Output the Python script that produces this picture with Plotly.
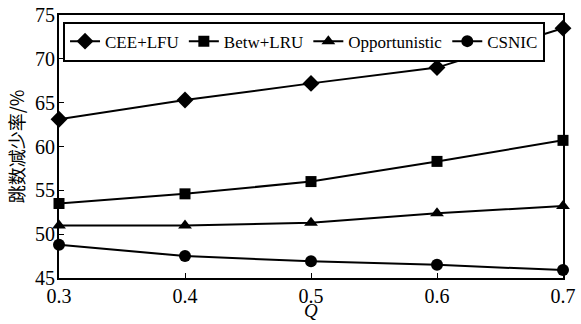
import plotly.graph_objects as go

q_values = [0.3, 0.4, 0.5, 0.6, 0.7]
cee_lfu = [63.1, 65.3, 67.2, 69.0, 73.5]
betw_lru = [53.5, 54.6, 56.0, 58.3, 60.7]
opportunistic = [51.0, 51.0, 51.3, 52.4, 53.2]
csnic = [48.8, 47.5, 46.9, 46.5, 45.9]

series_names = ["CEE+LFU", "Betw+LRU", "Opportunistic", "CSNIC"]
series_values = [cee_lfu, betw_lru, opportunistic, csnic]
series_symbols = ["diamond", "square", "triangle-up", "circle"]
series_sizes = [13, 11, 12, 12]

x_ticks = [0.3, 0.4, 0.5, 0.6, 0.7]
y_ticks = [45, 50, 55, 60, 65, 70, 75]

serif = "Liberation Serif"

fig = go.Figure()
for name, vals, sym, sz in zip(series_names, series_values, series_symbols, series_sizes):
    fig.add_trace(go.Scatter(
        x=q_values, y=vals, name=name, mode="lines+markers",
        line=dict(color="black", width=2),
        marker=dict(symbol=sym, size=sz, color="black"),
        cliponaxis=False,
    ))

fig.update_layout(
    width=581, height=324,
    margin=dict(l=59, r=18, t=15, b=46, autoexpand=False),
    paper_bgcolor="white", plot_bgcolor="white",
    font=dict(family=serif, size=19, color="black"),
    showlegend=True,
    legend=dict(
        orientation="h", x=0.008, y=0.975, xanchor="left", yanchor="top",
        bgcolor="white", bordercolor="black", borderwidth=2,
        font=dict(family=serif, size=17),
        itemwidth=30, tracegroupgap=0,
    ),
)
fig.update_xaxes(
    range=[0.3, 0.7], tickvals=x_ticks, ticktext=[f"{v:.1f}" for v in x_ticks],
    showline=True, linecolor="black", linewidth=2, mirror=True,
    ticks="inside", ticklen=5, tickcolor="black",
    showgrid=False, zeroline=False,
    tickfont=dict(family=serif, size=20), ticklabelstandoff=-1,
)
# x-axis title placed just under the tick labels
fig.add_annotation(
    text="<i>Q</i>", xref="paper", yref="paper", x=0.5, y=-0.125,
    xanchor="center", yanchor="middle", showarrow=False,
    font=dict(family=serif, size=19),
)
fig.update_yaxes(
    range=[45, 75], tickvals=y_ticks,
    showline=True, linecolor="black", linewidth=2, mirror=True,
    ticks="inside", ticklen=5, tickcolor="black",
    showgrid=False, zeroline=False,
    tickfont=dict(family=serif, size=20), ticklabelstandoff=-2,
    title=dict(text="跳数减少率/%", font=dict(family="Noto Sans CJK SC", size=18), standoff=6),
)

fig.write_html("out.html")
